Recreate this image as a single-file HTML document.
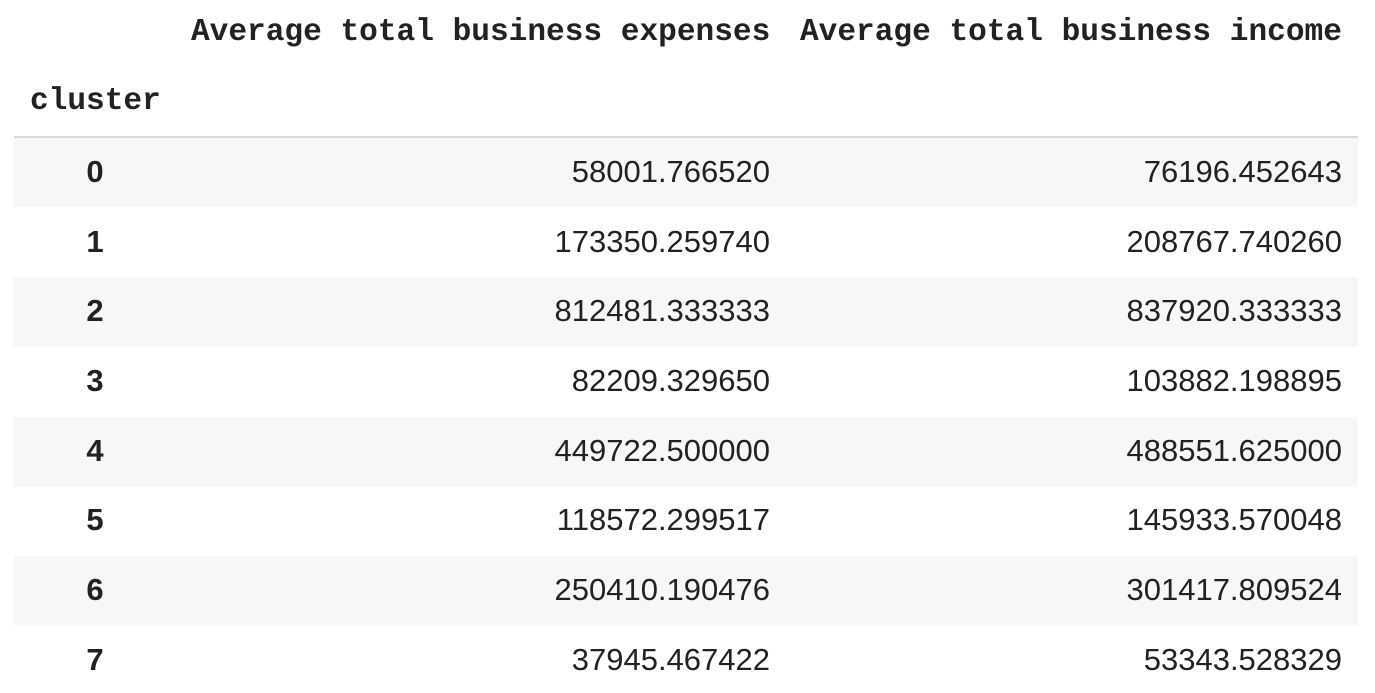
<!DOCTYPE html>
<html lang="en">
<head>
<meta charset="utf-8">
<title>Cluster averages</title>
<style>
  html, body { margin: 0; padding: 0; background: #fff; }
  #page { position: relative; width: 1375px; height: 693px; overflow: hidden; background: #fff; color: #222; }
  .t { position: absolute; white-space: nowrap; line-height: 40px; height: 40px; }
  .head { font: bold 31.15px "Liberation Mono", monospace; }
  .num { font: 31px "Liberation Sans", sans-serif; text-align: right; }
  .idx { font: bold 31px "Liberation Sans", sans-serif; text-align: center; left: 55px; width: 80px; }
  .c1 { left: 270px; width: 500px; }
  .c2 { left: 842px; width: 500px; }
  .band { position: absolute; left: 14px; width: 1344px; height: 70px; background: #f7f7f7; }
  #rule { position: absolute; left: 14px; top: 136px; width: 1344px; height: 2px; background: #d9d9d9; }
</style>
</head>
<body>
<div id="page">
  <div class="band" style="top:138px;height:69px"></div>
  <div class="band" style="top:277px"></div>
  <div class="band" style="top:417px"></div>
  <div class="band" style="top:556px"></div>
  <div id="rule"></div>

  <div class="t head" style="left:191px;top:15px">Average total business expenses</div>
  <div class="t head" style="left:800px;top:15px">Average total business income</div>
  <div class="t head" style="left:30px;top:84px">cluster</div>

  <div class="t idx" style="top:154px">0</div>
  <div class="t num c1" style="top:154px">58001.766520</div>
  <div class="t num c2" style="top:154px">76196.452643</div>

  <div class="t idx" style="top:224px">1</div>
  <div class="t num c1" style="top:224px">173350.259740</div>
  <div class="t num c2" style="top:224px">208767.740260</div>

  <div class="t idx" style="top:293px">2</div>
  <div class="t num c1" style="top:293px">812481.333333</div>
  <div class="t num c2" style="top:293px">837920.333333</div>

  <div class="t idx" style="top:363px">3</div>
  <div class="t num c1" style="top:363px">82209.329650</div>
  <div class="t num c2" style="top:363px">103882.198895</div>

  <div class="t idx" style="top:433px">4</div>
  <div class="t num c1" style="top:433px">449722.500000</div>
  <div class="t num c2" style="top:433px">488551.625000</div>

  <div class="t idx" style="top:502px">5</div>
  <div class="t num c1" style="top:502px">118572.299517</div>
  <div class="t num c2" style="top:502px">145933.570048</div>

  <div class="t idx" style="top:572px">6</div>
  <div class="t num c1" style="top:572px">250410.190476</div>
  <div class="t num c2" style="top:572px">301417.809524</div>

  <div class="t idx" style="top:642px">7</div>
  <div class="t num c1" style="top:642px">37945.467422</div>
  <div class="t num c2" style="top:642px">53343.528329</div>
</div>
</body>
</html>
